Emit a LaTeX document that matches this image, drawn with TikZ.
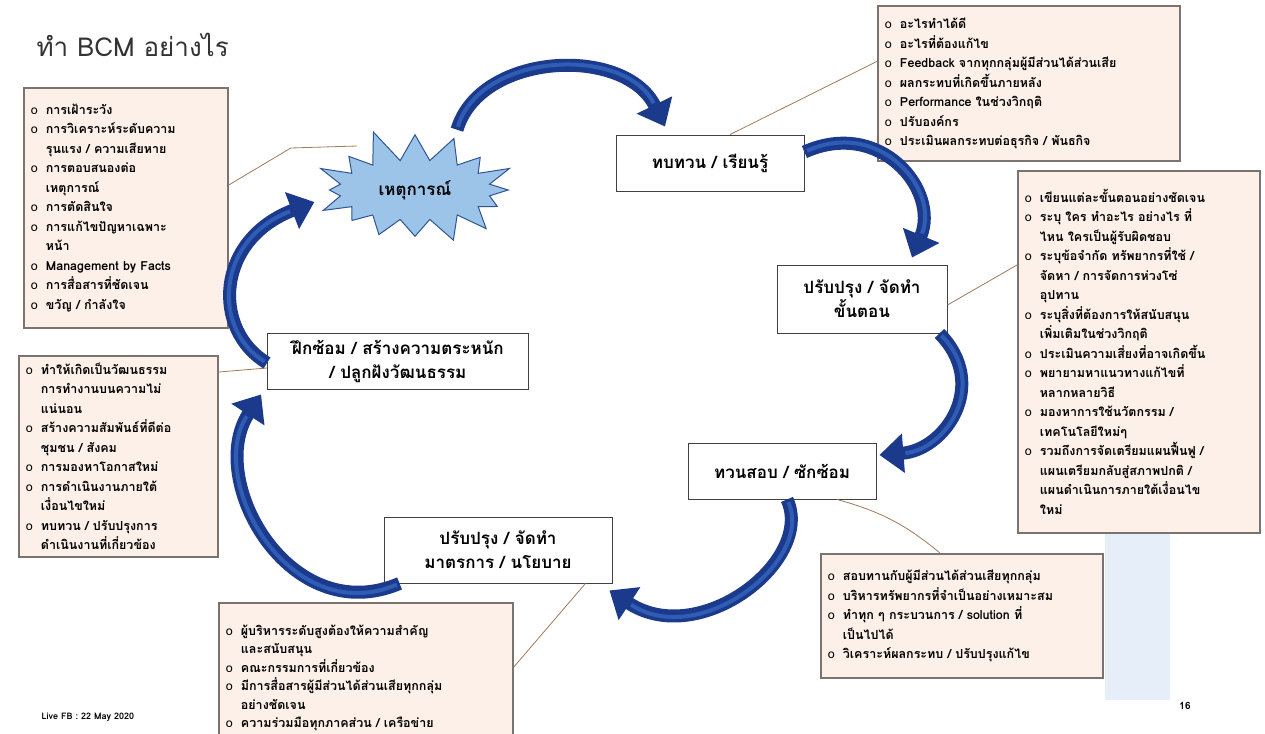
\documentclass[tikz,border=0pt]{standalone}
\usepackage{fontspec}
\setmainfont[Script=Thai]{Loma}
\usetikzlibrary{shapes.symbols,arrows.meta}
\definecolor{navy}{HTML}{1B3A8C}
\definecolor{navyhi}{HTML}{2F5DB5}
\definecolor{starfill}{HTML}{9CC3E8}
\definecolor{stardraw}{HTML}{2F5597}
\definecolor{peach}{HTML}{FCF0E8}
\definecolor{boxline}{HTML}{7A7470}
\definecolor{calloutc}{HTML}{A07A5E}
\definecolor{wm}{HTML}{E6EFF9}
\definecolor{titlec}{HTML}{333333}
\newcommand\bl{\makebox[15pt][l]{\mdseries o}}
\newcommand\ct{\hspace*{15pt}}
\tikzset{
  mainbox/.style={draw=black!75, line width=0.9pt, fill=white, align=center,
    font=\bfseries\fontsize{17}{24}\selectfont, inner sep=3pt},
  sidebox/.style={draw=boxline, line width=1.8pt, fill=peach, align=left, anchor=north west,
    font=\bfseries\fontsize{12.5}{19.5}\selectfont, inner xsep=7pt, inner ysep=7pt},
  callout/.style={draw=calloutc, line width=0.8pt},
  bigarrow/.style={draw=navy, line width=13pt, -{Triangle[length=24pt,width=38pt]}},
  hilite/.style={draw=navyhi, line width=4pt, shorten >=26pt, shorten <=3pt},
}
\begin{document}
\begin{tikzpicture}[x=1pt,y=-1pt]
\useasboundingbox (0,0) rectangle (1265,733);
\fill[white] (0,0) rectangle (1265,733);
% watermark
\fill[wm] (1105,530) rectangle (1170,700);

% title
\node[anchor=west, font=\fontsize{26}{30}\selectfont, text=titlec] (title) at (33,45) {ทำ BCM อย่างไร};

% main nodes
\node[starburst, starburst points=16, starburst point height=34pt, random starburst=11,
  minimum width=220pt, minimum height=128pt, fill=starfill, draw=stardraw, line width=1pt,
  font=\bfseries\fontsize{17}{22}\selectfont, inner sep=0pt] (star) at (415,190) {เหตุการณ์};
\node[mainbox, minimum width=188pt, minimum height=56pt] (review) at (710,163) {ทบทวน / เรียนรู้};
\node[mainbox, minimum width=170pt, minimum height=68pt] (proc) at (862,299) {ปรับปรุง / จัดทำ\\ขั้นตอน};
\node[mainbox, minimum width=261pt, minimum height=56pt] (drill) at (398,361) {ฝึกซ้อม / สร้างความตระหนัก\\/ ปลูกฝังวัฒนธรรม};
\node[mainbox, minimum width=188pt, minimum height=56pt] (verify) at (782,471) {ทวนสอบ / ซักซ้อม};
\node[mainbox, minimum width=228pt, minimum height=66pt] (policy) at (498,550) {ปรับปรุง / จัดทำ\\มาตรการ / นโยบาย};

% side boxes
\node[sidebox, text width=190pt, minimum height=240pt] (lt) at (23,87) {%
\bl การเฝ้าระวัง\\
\bl การวิเคราะห์ระดับความ\\
\ct รุนแรง / ความเสียหาย\\
\bl การตอบสนองต่อ\\
\ct เหตุการณ์\\
\bl การตัดสินใจ\\
\bl การแก้ไขปัญหาเฉพาะ\\
\ct หน้า\\
\bl Management by Facts\\
\bl การสื่อสารที่ชัดเจน\\
\bl ขวัญ / กำลังใจ};

\node[sidebox, text width=185pt] (lb) at (18,355) {%
\bl ทำให้เกิดเป็นวัฒนธรรม\\
\ct การทำงานบนความไม่\\
\ct แน่นอน\\
\bl สร้างความสัมพันธ์ที่ดีต่อ\\
\ct ชุมชน / สังคม\\
\bl การมองหาโอกาสใหม่\\
\bl การดำเนินงานภายใต้\\
\ct เงื่อนไขใหม่\\
\bl ทบทวน / ปรับปรุงการ\\
\ct ดำเนินงานที่เกี่ยวข้อง};

\node[sidebox, text width=288pt, minimum height=155pt] (tr) at (877,5) {%
\bl อะไรทำได้ดี\\
\bl อะไรที่ต้องแก้ไข\\
\bl Feedback จากทุกกลุ่มผู้มีส่วนได้ส่วนเสีย\\
\bl ผลกระทบที่เกิดขึ้นภายหลัง\\
\bl Performance ในช่วงวิกฤติ\\
\bl ปรับองค์กร\\
\bl ประเมินผลกระทบต่อธุรกิจ / พันธกิจ};

\node[sidebox, text width=228pt, minimum height=362pt] (rb) at (1017,170) {%
\bl เขียนแต่ละขั้นตอนอย่างชัดเจน\\
\bl ระบุ ใคร ทำอะไร อย่างไร ที่\\
\ct ไหน ใครเป็นผู้รับผิดชอบ\\
\bl ระบุข้อจำกัด ทรัพยากรที่ใช้ /\\
\ct จัดหา / การจัดการห่วงโซ่\\
\ct อุปทาน\\
\bl ระบุสิ่งที่ต้องการให้สนับสนุน\\
\ct เพิ่มเติมในช่วงวิกฤติ\\
\bl ประเมินความเสี่ยงที่อาจเกิดขึ้น\\
\bl พยายามหาแนวทางแก้ไขที่\\
\ct หลากหลายวิธี\\
\bl มองหาการใช้นวัตกรรม /\\
\ct เทคโนโลยีใหม่ๆ\\
\bl รวมถึงการจัดเตรียมแผนฟื้นฟู /\\
\ct แผนเตรียมกลับสู่สภาพปกติ /\\
\ct แผนดำเนินการภายใต้เงื่อนไข\\
\ct ใหม่};

\node[sidebox, text width=268pt, minimum height=124pt] (br) at (820,553) {%
\bl สอบทานกับผู้มีส่วนได้ส่วนเสียทุกกลุ่ม\\
\bl บริหารทรัพยากรที่จำเป็นอย่างเหมาะสม\\
\bl ทำทุก ๆ กระบวนการ / solution ที่\\
\ct เป็นไปได้\\
\bl วิเคราะห์ผลกระทบ / ปรับปรุงแก้ไข};

\node[sidebox, text width=280pt, minimum height=150pt, inner ysep=5pt,
  font=\bfseries\fontsize{12.5}{18.5}\selectfont] (bm) at (218,602) {%
\bl ผู้บริหารระดับสูงต้องให้ความสำคัญ\\
\ct และสนับสนุน\\
\bl คณะกรรมการที่เกี่ยวข้อง\\
\bl มีการสื่อสารผู้มีส่วนได้ส่วนเสียทุกกลุ่ม\\
\ct อย่างชัดเจน\\
\bl ความร่วมมือทุกภาคส่วน / เครือข่าย};

% callouts
\draw[callout] ([yshift=-98pt]lt.north east) -- ++(62,-37) -- ([xshift=-58pt,yshift=44pt]star.center);
\draw[callout] ([xshift=20pt]review.north) -- ([yshift=22pt]tr.west);
\draw[callout] ([yshift=-6pt]proc.east) -- ([yshift=-95pt]rb.north west);
\draw[callout] ([yshift=-7pt]drill.west) -- ([yshift=-17pt]lb.north east);
\draw[callout] ([xshift=55pt]verify.south) to[bend left=12] ([xshift=120pt]br.north west);
\draw[callout] ([xshift=-27pt]policy.south east) -- ([yshift=-65pt]bm.north east);

% cycle arrows
\draw[bigarrow] ([xshift=42pt,yshift=4pt]star.north) .. controls (480,52) and (625,45) .. ([xshift=-45pt,yshift=8pt]review.north);
\draw[hilite] ([xshift=42pt,yshift=4pt]star.north) .. controls (480,52) and (625,45) .. ([xshift=-45pt,yshift=8pt]review.north);

\draw[bigarrow] ([yshift=11pt]review.east) .. controls (880,118) and (940,190) .. ([xshift=50pt,yshift=7pt]proc.north);
\draw[hilite] ([yshift=11pt]review.east) .. controls (880,118) and (940,190) .. ([xshift=50pt,yshift=7pt]proc.north);

\draw[bigarrow] ([xshift=-8pt]proc.south east) .. controls (990,385) and (945,450) .. ([xshift=3pt,yshift=16pt]verify.east);
\draw[hilite] ([xshift=-8pt]proc.south east) .. controls (990,385) and (945,450) .. ([xshift=3pt,yshift=16pt]verify.east);

\draw[bigarrow] ([xshift=5pt]verify.south) .. controls (815,560) and (700,650) .. ([xshift=-3pt,yshift=-7pt]policy.south east);
\draw[hilite] ([xshift=5pt]verify.south) .. controls (815,560) and (700,650) .. ([xshift=-3pt,yshift=-7pt]policy.south east);

\draw[bigarrow] ([xshift=16pt]policy.south west) .. controls (290,630) and (205,480) .. ([xshift=-6pt,yshift=-5pt]drill.south west);
\draw[hilite] ([xshift=16pt]policy.south west) .. controls (290,630) and (205,480) .. ([xshift=-6pt,yshift=-5pt]drill.south west);

\draw[bigarrow] ([yshift=-2pt]drill.west) .. controls (212,330) and (215,240) .. ([xshift=-14pt,yshift=-12pt]star.west);
\draw[hilite] ([yshift=-2pt]drill.west) .. controls (212,330) and (215,240) .. ([xshift=-14pt,yshift=-12pt]star.west);

% footer
\node[anchor=west, font=\bfseries\fontsize{9}{11}\selectfont] (live) at (38,717) {Live FB : 22 May 2020};
\node[font=\bfseries\fontsize{10}{12}\selectfont] (pg) at (1185,706) {16};
\end{tikzpicture}
\end{document}
